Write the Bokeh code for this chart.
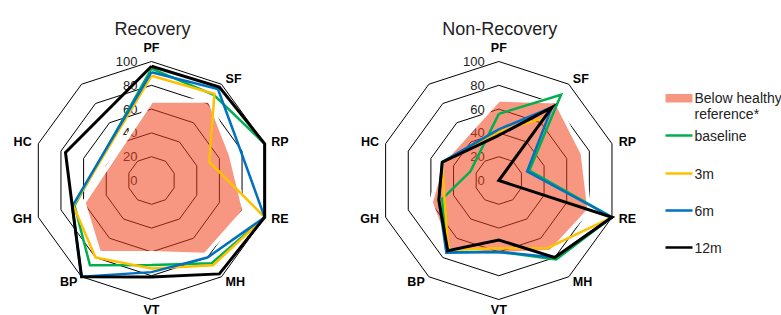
import numpy as np
from bokeh.plotting import figure
from bokeh.models import Range1d
from bokeh.embed import file_html
from bokeh.resources import INLINE
from bokeh.core.properties import value

# ---------------- data ----------------
categories = ["PF", "SF", "RP", "RE", "MH", "VT", "BP", "GH", "HC", ""]
ring_values = [20, 40, 60, 80, 100]
ring_tick_values = [0, 20, 40, 60, 80, 100]
ring_tick_labels = ["0", "20", "40", "60", "80", "100"]

series_names = ["baseline", "3m", "6m", "12m"]
series_colors = ["#00B050", "#FFC000", "#0070C0", "#000000"]

# Recovery group
rec_baseline = [94, 89, 100, 100, 86, 71, 88, 68, None, None]
rec_3m       = [88, 90, 51, 100, 88, 74, 80, 69, None, None]
rec_6m       = [91, 95, 79, 100, 80, 77, 100, 70, None, None]
rec_12m      = [96, 97, 100, 100, 97, 81, 100, 70, 76, None]
rec_healthy_below = [67, 83, 70, 82, 77, 61, 75, 60, None, None]

# Non-Recovery group
non_baseline = [56, 89, 27, 100, 82, 60, 74, 50, 25, None]
non_3m       = [41, 65, 0, 100, 70, 57, 72, 48, 50, None]
non_6m       = [43, 76, 25, 100, 80, 60, 75, 53, 50, None]
non_12m      = [38, 76, 0, 100, 80, 50, 73, 53, 50, None]
non_healthy_below = [68, 82, 74, 80, 74, 62, 72, 60, 50, None]

legend_patch_label = ["Below healthy", "reference*"]

# ---------------- layout ----------------
W, H = 781, 315
R = 119.0  # pixels for value 100
centers = [(151.0, 180.0), (498.3, 180.0)]
titles = ["Recovery", "Non-Recovery"]
FONT = value("Liberation Sans")
RED = "#F0401A"

p = figure(width=W, height=H, x_range=Range1d(0, W), y_range=Range1d(H, 0),
           toolbar_location=None, output_backend="svg", min_border=0,
           x_axis_location=None, y_axis_location=None)
p.grid.visible = False
p.outline_line_color = None
p.background_fill_color = "white"
p.border_fill_color = "white"

n = len(categories)
ang = np.deg2rad(90 - 36 * np.arange(n))


def to_xy(vals, cx, cy):
    xs, ys = [], []
    for k, v in enumerate(vals):
        if v is None:
            continue
        r = v / 100.0 * R
        xs.append(cx + r * np.cos(ang[k]))
        ys.append(cy - r * np.sin(ang[k]))
    return xs, ys


groups = [
    ([rec_baseline, rec_3m, rec_6m, rec_12m], rec_healthy_below),
    ([non_baseline, non_3m, non_6m, non_12m], non_healthy_below),
]

for gi, (cx, cy) in enumerate(centers):
    series, healthy = groups[gi]
    # rings
    for rv in ring_values:
        xs, ys = to_xy([rv] * n, cx, cy)
        p.patch(xs + [xs[0]], ys + [ys[0]], fill_color=None, line_color="black", line_width=1)
    # ring tick labels
    p.text(x=[cx - 14] * len(ring_tick_values),
           y=[cy - v / 100.0 * R for v in ring_tick_values],
           text=ring_tick_labels, text_font=FONT, text_font_size="13px",
           text_color="#222222", text_align="right", text_baseline="middle")
    # healthy reference area
    hx, hy = to_xy(healthy, cx, cy)
    p.patch(hx, hy, fill_color=RED, fill_alpha=0.55, line_color="white", line_width=4)
    # series lines
    for vals, col in zip(series, series_colors):
        xs, ys = to_xy(vals, cx, cy)
        p.line(xs + [xs[0]], ys + [ys[0]], line_color=col,
               line_width=3 if col == "#000000" else 2.5, line_join="miter")
    # category labels
    for k, lab in enumerate(categories):
        if not lab:
            continue
        c, s = np.cos(ang[k]), np.sin(ang[k])
        vx, vy = cx + R * c, cy - R * s
        lx, ly = vx + 7 * c, vy - 7 * s
        if c > 0.3:
            al = "left"
        elif c < -0.3:
            al = "right"
        else:
            al = "center"
        bl = "middle"
        if s > 0.95:
            bl = "bottom"
        elif s < -0.95:
            bl = "top"
            ly = vy + 3
        p.text(x=[lx], y=[ly], text=[lab], text_font=FONT, text_font_size="12.5px",
               text_font_style="bold", text_color="black", text_align=al, text_baseline=bl)
    # title
    p.text(x=[cx + 1], y=[28], text=[titles[gi]], text_font=FONT, text_font_size="18px",
           text_color="#222222", text_align="center", text_baseline="alphabetic")

# ---------------- legend ----------------
lx0, lx1, tx = 665, 692, 694
p.quad(left=[lx0], right=[lx1], top=[93.5], bottom=[102], fill_color=RED, fill_alpha=0.55,
       line_color=None)
p.text(x=[tx, tx], y=[97.5, 113.5], text=legend_patch_label, text_font=FONT,
       text_font_size="14px", text_color="#222222", text_align="left", text_baseline="middle")
ly = [135, 173, 210, 247]
for name, col, yy in zip(series_names, series_colors, ly):
    p.line([lx0, lx1], [yy, yy], line_color=col, line_width=2.5)
    p.text(x=[tx], y=[yy], text=[name], text_font=FONT, text_font_size="14px",
           text_color="#222222", text_align="left", text_baseline="middle")

open("out.html", "w").write(file_html(p, INLINE))
